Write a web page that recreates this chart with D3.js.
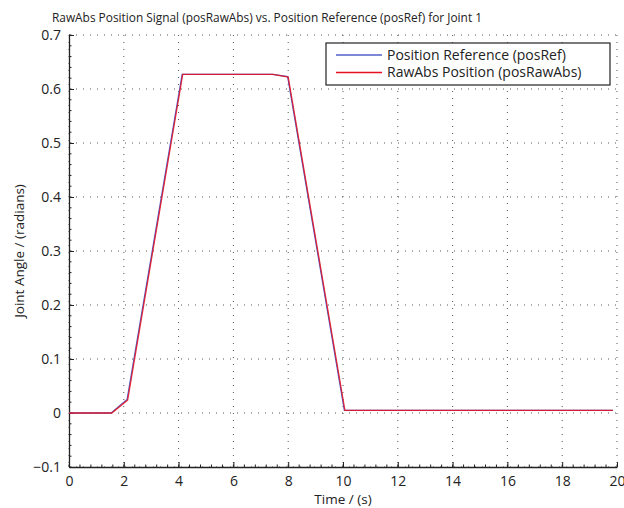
<!DOCTYPE html>
<meta charset="utf-8">
<script src="https://d3js.org/d3.v7.min.js"></script>
<style>
  body { margin: 0; background: #fff; }
  text { font-family: "Open Sans", "Noto Sans", sans-serif; fill: #222; }
</style>
<div id="chart"></div>
<script>
// data
var refTime    = [0, 1.54, 2.12, 4.13, 7.43, 7.98, 10.05, 19.85];
var refPos     = [0, 0, 0.025, 0.627, 0.627, 0.623, 0.005, 0.005];
var rawTime    = [0, 1.56, 2.14, 4.15, 7.45, 8.00, 10.07, 19.85];
var rawPos     = [0, 0, 0.024, 0.627, 0.627, 0.622, 0.005, 0.005];
var xTicks     = [0, 2, 4, 6, 8, 10, 12, 14, 16, 18, 20];
var yTicks     = [-0.1, 0, 0.1, 0.2, 0.3, 0.4, 0.5, 0.6, 0.7];
var seriesNames = ["Position Reference (posRef)", "RawAbs Position (posRawAbs)"];
var seriesColors = ["#5060c8", "#e8101e"];

var W = 624, H = 508;
var margin = {top: 35, right: 7, bottom: 41, left: 69},
    width = W - margin.left - margin.right,
    height = H - margin.top - margin.bottom;

var svg = d3.select("#chart").append("svg")
    .attr("width", W).attr("height", H)
  .append("g")
    .attr("transform", "translate(" + margin.left + "," + margin.top + ")");

var x = d3.scaleLinear().domain([0, 20]).range([0, width]);
var y = d3.scaleLinear().domain([-0.1, 0.7]).range([height, 0]);

// dotted grid
svg.selectAll("vgrid").data(xTicks).enter().append("line")
    .attr("x1", function(d) { return x(d); }).attr("x2", function(d) { return x(d); })
    .attr("y1", 0).attr("y2", height)
    .attr("stroke", "#555").attr("stroke-width", 1)
    .attr("stroke-dasharray", "1,6");
svg.selectAll("hgrid").data(yTicks).enter().append("line")
    .attr("y1", function(d) { return y(d); }).attr("y2", function(d) { return y(d); })
    .attr("x1", 0).attr("x2", width)
    .attr("stroke", "#555").attr("stroke-width", 1)
    .attr("stroke-dasharray", "1,6");

// minor ticks
var xMinor = d3.range(0, 20.001, 0.4);
var yMinor = d3.range(-0.1, 0.7001, 0.02);
svg.selectAll("xminor").data(xMinor).enter().append("line")
    .attr("x1", function(d) { return x(d); }).attr("x2", function(d) { return x(d); })
    .attr("y1", height).attr("y2", height - 2.5)
    .attr("stroke", "#222");
svg.selectAll("yminor").data(yMinor).enter().append("line")
    .attr("y1", function(d) { return y(d); }).attr("y2", function(d) { return y(d); })
    .attr("x1", 0).attr("x2", 2.5)
    .attr("stroke", "#222");

// axes
var xAxis = svg.append("g")
    .attr("transform", "translate(0," + height + ")")
    .call(d3.axisBottom(x).tickValues(xTicks).tickSizeInner(-5).tickSizeOuter(0).tickPadding(9));
var yAxis = svg.append("g")
    .call(d3.axisLeft(y).tickValues(yTicks).tickSizeInner(-5).tickSizeOuter(0).tickPadding(8)
      .tickFormat(function(d) { return d === 0 ? "0" : d3.format(".1f")(d).replace("-", "\u2212"); }));
[xAxis, yAxis].forEach(function(a) {
  a.select(".domain").attr("stroke", "#222").attr("stroke-width", 1.3);
  a.selectAll(".tick line").attr("stroke", "#222");
  a.selectAll(".tick text").style("font-size", "14px").attr("fill", "#222");
});

// lines
var line = d3.line()
    .x(function(d) { return x(d[0]); })
    .y(function(d) { return y(d[1]); });
svg.append("path")
    .datum(d3.zip(refTime, refPos))
    .attr("d", line).attr("fill", "none")
    .attr("stroke", seriesColors[0]).attr("stroke-width", 1.3);
svg.append("path")
    .datum(d3.zip(rawTime, rawPos))
    .attr("d", line).attr("fill", "none")
    .attr("stroke", seriesColors[1]).attr("stroke-width", 1.3)
    .attr("stroke-opacity", 0.85);

// legend
var lg = svg.append("g").attr("transform", "translate(" + (326 - margin.left) + "," + (43 - margin.top) + ")");
lg.append("rect").attr("width", 284).attr("height", 42)
    .attr("fill", "#fff").attr("stroke", "#222").attr("stroke-width", 1.2);
seriesNames.forEach(function(name, i) {
  var yy = 12 + i * 17.5;
  lg.append("line").attr("x1", 10).attr("x2", 56).attr("y1", yy).attr("y2", yy)
      .attr("stroke", seriesColors[i]).attr("stroke-width", 1.3);
  lg.append("text").attr("x", 61).attr("y", yy).attr("dy", "0.35em")
      .style("font-size", "14px").text(name);
});

// title and labels
svg.append("text")
    .attr("x", 267 - margin.left).attr("y", 17 - margin.top)
    .attr("text-anchor", "middle").attr("dy", "0.35em")
    .style("font-size", "13px")
    .attr("textLength", 430).attr("lengthAdjust", "spacingAndGlyphs")
    .text("RawAbs Position Signal (posRawAbs) vs. Position Reference (posRef) for Joint 1");
svg.append("text")
    .attr("x", width / 2).attr("y", height + 32)
    .attr("text-anchor", "middle").attr("dy", "0.35em")
    .style("font-size", "13.5px")
    .text("Time / (s)");
svg.append("text")
    .attr("transform", "rotate(-90)")
    .attr("x", -(y(0.3))).attr("y", 19 - margin.left)
    .attr("text-anchor", "middle").attr("dy", "0.35em")
    .style("font-size", "13.5px")
    .text("Joint Angle / (radians)");
</script>
